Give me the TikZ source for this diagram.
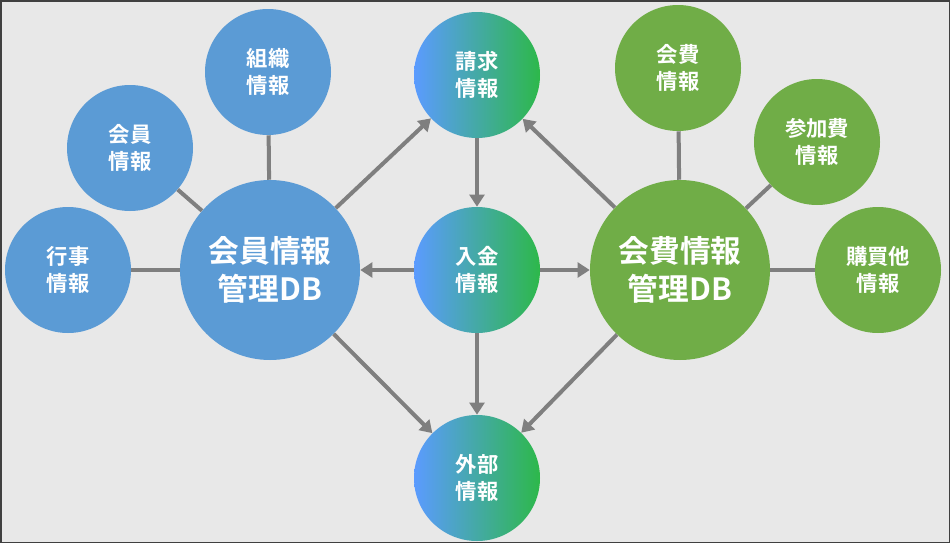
\documentclass[tikz,border=0pt]{standalone}
\usepackage{fontspec}
\setmainfont{Noto Sans CJK JP}[BoldFont={* Bold}]
\usetikzlibrary{arrows.meta}
\definecolor{bl}{HTML}{5B9BD5}
\definecolor{gr}{HTML}{70AD47}
\definecolor{mb}{HTML}{5B9BFF}
\definecolor{mg}{HTML}{2DB84A}
\definecolor{ln}{HTML}{7F7F7F}
\begin{document}
\begin{tikzpicture}[x=0.75pt,y=-0.75pt,
  circ/.style={circle,inner sep=0pt,text=white,font=\bfseries\fontsize{16}{20}\selectfont,align=center},
  sm/.style={circ,minimum size=94.5pt},
  big/.style={circ,minimum size=135pt,font=\bfseries\fontsize{23}{29}\selectfont},
  blue/.style={fill=bl},
  green/.style={fill=gr},
  mid/.style={left color=mb,right color=mg},
  con/.style={draw=ln,line width=3pt},
  arr/.style={con,-{Triangle[length=9pt,width=11pt]}}]
\fill[black!75] (0,0) rectangle (950,543);
\fill[black!9] (1.5,1.5) rectangle (948.5,541.5);
\node[big,blue] (db1) at (270,270) {会員情報\\管理DB};
\node[sm,blue] (gj) at (68,270) {行事\\情報};
\node[sm,blue] (kj) at (130,148) {会員\\情報};
\node[sm,blue] (sj) at (268,72) {組織\\情報};
\node[sm,mid] (sk) at (477,75) {請求\\情報};
\node[sm,mid] (nk) at (477,270) {入金\\情報};
\node[sm,mid] (gb) at (477,478) {外部\\情報};
\node[big,green] (db2) at (680,270) {会費情報\\管理DB};
\node[sm,green] (kh) at (678,68) {会費\\情報};
\node[sm,green] (sh) at (817,142) {参加費\\情報};
\node[sm,green] (kb) at (878,270) {購買他\\情報};
\draw[con] (gj) -- (db1);
\draw[con] (kj) -- (db1);
\draw[con] (sj) -- (db1);
\draw[con] (kh) -- (db2);
\draw[con] (sh) -- (db2);
\draw[con] (kb) -- (db2);
\draw[arr] (db1) -- (sk);
\draw[arr] (db1) -- (gb);
\draw[arr] (nk) -- (db1);
\draw[arr] (nk) -- (db2);
\draw[arr] (sk) -- (nk);
\draw[arr] (nk) -- (gb);
\draw[arr] (db2) -- (sk);
\draw[arr] (db2) -- (gb);
\end{tikzpicture}
\end{document}
